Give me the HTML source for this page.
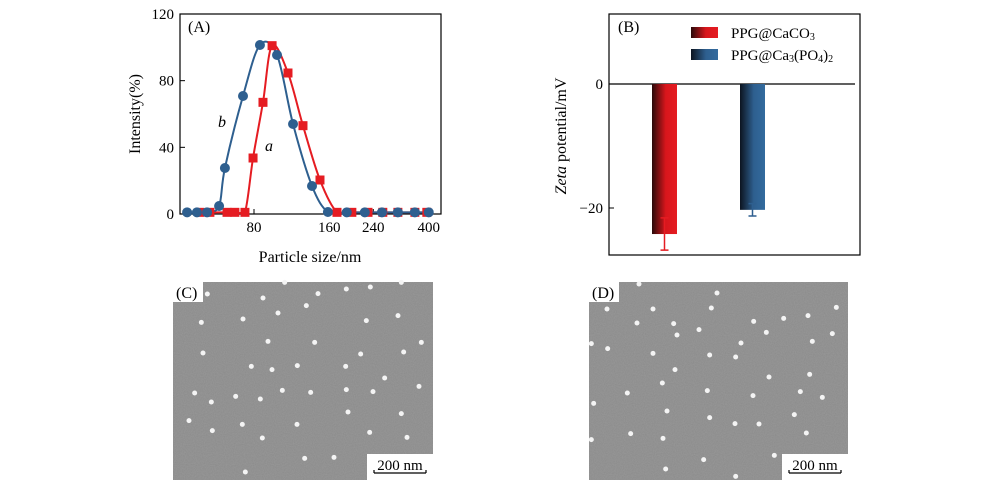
<!DOCTYPE html>
<html><head><meta charset="utf-8"><style>
body{margin:0;background:#fff;width:1000px;height:497px;overflow:hidden;font-family:"Liberation Serif",serif}
svg{position:absolute;left:0;top:0}
</style></head><body>
<svg id="s" width="1000" height="497" viewBox="0 0 1000 497" font-family="Liberation Serif, serif">
<defs>
<linearGradient id="gr" x1="0" x2="1"><stop offset="0" stop-color="#2a0a0a"/><stop offset="0.55" stop-color="#d8161c"/><stop offset="1" stop-color="#e51c22"/></linearGradient>
<linearGradient id="gb" x1="0" x2="1"><stop offset="0" stop-color="#0c1420"/><stop offset="0.55" stop-color="#2e5f8f"/><stop offset="1" stop-color="#336b9e"/></linearGradient>
<filter id="nz" x="0" y="0" width="1" height="1"><feTurbulence type="fractalNoise" baseFrequency="0.9" numOctaves="2" seed="3"/><feColorMatrix type="matrix" values="0 0 0 0 0.5  0 0 0 0 0.5  0 0 0 0 0.5  0 0 0 0.3 0"/></filter>
<clipPath id="cpA"><rect x="180" y="14" width="261" height="200"/></clipPath>
</defs>
<g id="A"></g>
<g id="B"></g>
<g id="C"></g>
<g id="D"></g>
</svg>
<script>
// Panel A data
const sizesA = [48.6,53.3,62.4,67.1,73.6,79.3,86.9,94.5,109.4,125.6,146.9,171.8,197,228.6,262,301,352,393];
const intensA = [1,1,1,1,1,33.6,67,101,84.6,53,20.4,1,1,1,1,1,1,1];
const sizesB = [43.2,47.3,51.9,58,61.2,72.3,84.5,98.9,114.6,136.5,158,188,222,260,301,352,400];
const intensB = [1,1,1,4.8,27.6,70.8,101.4,95.4,54,16.8,1.2,1,1,1,1,1,1];
const xTicksA = [80,160,240,400];
const yTicksA = [0,40,80,120];
// Panel B data
const zetaCats = ["PPG@CaCO3","PPG@Ca3(PO4)2"];
const zetaVals = [-24.2,-20.3];
const zetaErr = [2.6,1.0];
const yTicksB = [0,-20];

const NS="http://www.w3.org/2000/svg";
function el(p,t,a,txt){const e=document.createElementNS(NS,t);for(const k in a)e.setAttribute(k,a[k]);if(txt!==undefined)e.textContent=txt;p.appendChild(e);return e;}

// ---- Panel A
const A=document.getElementById('A');
const xA=v=>254+250*(Math.log10(v)-Math.log10(80));
const yA=v=>214-v*200/120;
let f=el(A,'rect',{x:180,y:14,width:261,height:200,fill:'none',stroke:'#000','stroke-width':1.2});

xTicksA.forEach(t=>{
  let l=el(A,'line',{x1:xA(t),x2:xA(t),y1:214,y2:209,stroke:'#000'});
  
  let tx=el(A,'text',{x:xA(t),y:232,'text-anchor':'middle','font-size':15},String(t));
  
});
yTicksA.forEach(t=>{
  let l=el(A,'line',{x1:180,x2:185,y1:yA(t),y2:yA(t),stroke:'#000'});
  
  let tx=el(A,'text',{x:174,y:yA(t)+5,'text-anchor':'end','font-size':15},String(t));
  
});
let t1=el(A,'text',{x:310,y:262,'text-anchor':'middle','font-size':16},'Particle size/nm');

let t2=el(A,'text',{x:140,y:114,'text-anchor':'middle','font-size':16,transform:'rotate(-90 140 114)'},'Intensity(%)');

let t3=el(A,'text',{x:188,y:32,'font-size':16},'(A)');

function smoothPath(xs,ys){
  const P=xs.map((x,i)=>[xA(x),yA(ys[i])]);
  let d='M'+P[0][0]+','+P[0][1];
  for(let i=0;i<P.length-1;i++){
    const p0=P[Math.max(0,i-1)],p1=P[i],p2=P[i+1],p3=P[Math.min(P.length-1,i+2)];
    let c1y=p1[1]+(p2[1]-p0[1])/6,c2y=p2[1]-(p3[1]-p1[1])/6;
    c1y=Math.min(c1y,yA(0));c2y=Math.min(c2y,yA(0));
    d+=` C${p1[0]+(p2[0]-p0[0])/6},${c1y} ${p2[0]-(p3[0]-p1[0])/6},${c2y} ${p2[0]},${p2[1]}`;
  }
  return d;
}
const gA=el(A,'g',{'clip-path':'url(#cpA)'});
let cr=el(gA,'path',{d:smoothPath(sizesA,intensA),fill:'none',stroke:'#e51c22','stroke-width':2});

let cb=el(gA,'path',{d:smoothPath(sizesB,intensB),fill:'none',stroke:'#2e5f8f','stroke-width':2});

sizesA.forEach((s,i)=>{
  let r=el(A,'rect',{x:xA(s)-4.5,y:yA(intensA[i])-4.5,width:9,height:9,fill:'#e51c22'});
  
});
sizesB.forEach((s,i)=>{
  let c=el(A,'circle',{cx:xA(s),cy:yA(intensB[i]),r:5,fill:'#2e5f8f'});
  
});
let la=el(A,'text',{x:265,y:151,'font-size':16,'font-style':'italic'},'a');

let lb=el(A,'text',{x:218,y:127,'font-size':16,'font-style':'italic'},'b');


// ---- Panel B
const B=document.getElementById('B');
const yB=v=>84-v*6.2;
let fb=el(B,'rect',{x:609,y:14,width:251,height:241,fill:'none',stroke:'#000','stroke-width':1.2});

let zl=el(B,'line',{x1:609,x2:855,y1:yB(0),y2:yB(0),stroke:'#000','stroke-width':1.2});

yTicksB.forEach(t=>{
  let l=el(B,'line',{x1:609,x2:614,y1:yB(t),y2:yB(t),stroke:'#000'});
  
  let tx=el(B,'text',{x:603,y:yB(t)+5,'text-anchor':'end','font-size':15},t<0?'\u2212'+(-t):String(t));
  
});
let yt=el(B,'text',{x:566,y:136,'text-anchor':'middle','font-size':16,transform:'rotate(-90 566 136)'});

el(yt,'tspan',{'font-style':'italic'},'Zeta');el(yt,'tspan',{},' potential/mV');
let pb=el(B,'text',{x:618,y:32,'font-size':16},'(B)');

const barX=[652,740],fills=['url(#gr)','url(#gb)'],ecol=['#e51c22','#2e5f8f'];
zetaVals.forEach((v,i)=>{
  let r=el(B,'rect',{x:barX[i],y:yB(0),width:25,height:yB(v)-yB(0),fill:fills[i]});
  
  const cx=barX[i]+12.5;
  let e=el(B,'path',{d:`M${cx},${yB(v-zetaErr[i])}V${yB(v+zetaErr[i])}M${cx-4},${yB(v-zetaErr[i])}h8M${cx-4},${yB(v+zetaErr[i])}h8`,stroke:ecol[i],'stroke-width':1.5,fill:'none'});
  
});
[[27,'url(#gr)'],[49,'url(#gb)']].forEach((p,i)=>{
  let r=el(B,'rect',{x:691,y:p[0],width:27,height:11,fill:p[1]});
  
});
let l1=el(B,'text',{x:731,y:38,'font-size':15});

l1.innerHTML='PPG@CaCO<tspan font-size="10" dy="2">3</tspan>';
let l2=el(B,'text',{x:731,y:60,'font-size':15});

l2.innerHTML='PPG@Ca<tspan font-size="10" dy="2">3</tspan><tspan dy="-2">(PO</tspan><tspan font-size="10" dy="2">4</tspan><tspan dy="-2">)</tspan><tspan font-size="10" dy="2">2</tspan>';

// ---- SEM images
const dotsC=[[143,73],[310,85],[375,38],[475,72],[560,58],[632,52],[725,38],[440,108],[355,130],[250,148],[125,158],[620,153],[715,138],[325,215],[465,218],[785,218],[130,250],[603,253],[732,247],[275,290],[337,300],[413,288],[558,290],[675,325],[778,350],[105,370],[368,362],[453,368],[560,360],[640,366],[228,380],[155,397],[302,388],[565,427],[725,432],[88,453],[412,464],[248,464],[158,483],[630,488],[742,503],[308,505],[435,566],[523,563],[257,607]];
const dotsD=[[178,43],[412,70],[82,118],[220,118],[395,115],[770,113],[172,160],[282,162],[522,155],[612,146],[685,138],[358,180],[292,196],[560,188],[758,192],[698,215],[484,220],[35,222],[84,237],[220,251],[390,256],[468,262],[286,300],[690,314],[568,322],[248,340],[143,370],[383,363],[520,378],[662,366],[728,383],[42,401],[262,424],[390,444],[466,462],[538,463],[644,435],[153,492],[250,506],[680,490],[35,510],[372,570],[584,557],[258,598],[468,620]];
function sem(id,x0,y0,w,h,dots,ox,oy,lab){
  const g=document.getElementById(id);
  let bg=el(g,'rect',{x:x0,y:y0,width:w,height:h,fill:'#8a8a8a'});
  
  el(g,'rect',{x:x0,y:y0,width:w,height:h,filter:'url(#nz)'});
  dots.forEach(d=>{
    let c=el(g,'circle',{cx:x0+(d[0]-ox)/3,cy:y0+(d[1]-oy)/3,r:2.5,fill:'#f4f4f4'});
    
  });
  let lb=el(g,'rect',{x:x0,y:y0,width:30,height:20,fill:'#fff'});
  
  let lt=el(g,'text',{x:x0+3,y:y0+16,'font-size':16},lab);
  
  let sb=el(g,'rect',{x:x0+w-66,y:y0+h-26,width:66,height:26,fill:'#fff'});
  
  let st=el(g,'text',{x:x0+w-33,y:y0+h-10,'font-size':15,'text-anchor':'middle'},'200  nm');
  st.setAttribute('xml:space','preserve');
  
  let sl=el(g,'path',{d:`M${x0+w-59},${y0+h-7}h52M${x0+w-59},${y0+h-10}v3M${x0+w-7},${y0+h-10}v3`,stroke:'#000','stroke-width':1.2,fill:'none'});
  
}
sem('C',173,282,260,198,dotsC,40,37,'(C)');
sem('D',589,282,259,198,dotsD,28,37,'(D)');
</script>
</body></html>
